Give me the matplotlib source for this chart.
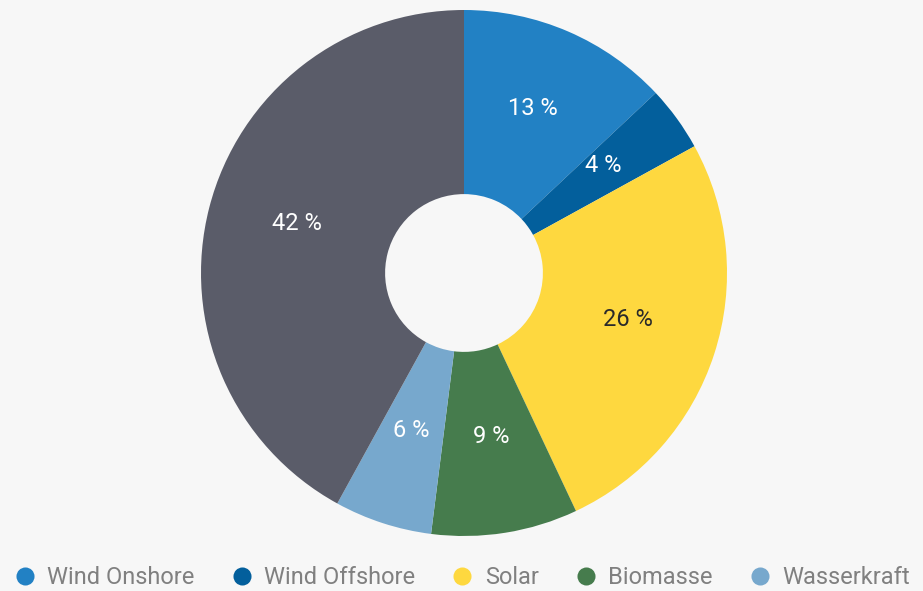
import matplotlib
matplotlib.use("Agg")
import matplotlib.pyplot as plt
from matplotlib.lines import Line2D

# Share of electricity generation (percent), clockwise from the top
labels = ["Wind Onshore", "Wind Offshore", "Solar", "Biomasse", "Wasserkraft", "Sonstige"]
shares = [13, 4, 26, 9, 6, 42]
colors = ["#2281c4", "#035f9c", "#fed83f", "#467c4d", "#77a8cd", "#5a5c69"]
text_colors = ["white", "white", "#2a2a2a", "white", "white", "white"]
legend_labels = labels[:5]

plt.rcParams["font.family"] = ["Roboto", "DejaVu Sans"]

bg = "#f7f7f7"
W, H = 923, 591
fig = plt.figure(figsize=(W / 100, H / 100), dpi=100, facecolor=bg)

cx, cy, r = 464, 273, 263
ax = fig.add_axes([(cx - r) / W, (H - cy - r) / H, 2 * r / W, 2 * r / H])
ax.set_facecolor(bg)

wedges, _, pct_texts = ax.pie(
    shares,
    colors=colors,
    startangle=90,
    counterclock=False,
    radius=1,
    autopct=lambda p: f"{p:.0f} %",
    pctdistance=0.655,
    wedgeprops=dict(width=0.70, edgecolor="none", linewidth=0),
    textprops=dict(fontsize=17),
)
for t, c in zip(pct_texts, text_colors):
    t.set_color(c)
    x, y = t.get_position()
    t.set_position((x, y + 0.025))

ax.set_xlim(-1, 1)
ax.set_ylim(-1, 1)
ax.set_aspect("equal")
ax.axis("off")

handles = [Line2D([], [], marker="o", linestyle="none", markersize=13,
                  markerfacecolor=c, markeredgecolor="none")
           for c in colors[:5]]
fig.legend(handles, legend_labels, loc="center", bbox_to_anchor=(0.5, 1 - 578 / H),
           ncol=5, frameon=False, fontsize=17, labelcolor="#808080",
           handletextpad=0.45, columnspacing=1.5, handlelength=1.0,
           borderaxespad=0)

fig.savefig("out.png", dpi=100, facecolor=bg)
